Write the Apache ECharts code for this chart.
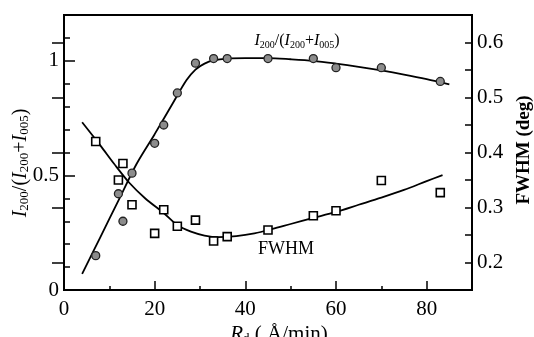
<!DOCTYPE html>
<html><head><meta charset="utf-8">
<script src="https://cdn.jsdelivr.net/npm/echarts@6/dist/echarts.min.js"></script>
<style>html,body{margin:0;padding:0;background:#fff}#c{width:534px;height:337px}</style>
</head><body><div id="c"></div>
<script>
// Measured data: I200/(I200+I005) ratio (left axis)
var ratioX = [7, 12, 13, 15, 20, 22, 25, 29, 33, 36, 45, 55, 60, 70, 83];
var ratioY = [0.15, 0.42, 0.30, 0.51, 0.64, 0.72, 0.86, 0.99, 1.01, 1.01, 1.01, 1.01, 0.97, 0.97, 0.91];
// Fit line for ratio
var ratioFitX = [4, 8, 12, 16, 20, 24, 27, 29, 31, 33, 36, 40, 45, 50, 55, 60, 65, 70, 75, 80, 85];
var ratioFitY = [0.07, 0.23, 0.39, 0.55, 0.68, 0.815, 0.915, 0.962, 0.988, 1.002, 1.01, 1.012, 1.012, 1.007, 1.0, 0.988, 0.974, 0.958, 0.94, 0.92, 0.897];
// Measured FWHM (deg) (right axis)
var fwhmX = [7, 12, 13, 15, 20, 22, 25, 29, 33, 36, 45, 55, 60, 70, 83];
var fwhmY = [0.42, 0.35, 0.38, 0.305, 0.253, 0.296, 0.266, 0.277, 0.239, 0.247, 0.259, 0.285, 0.294, 0.349, 0.327];
// Fit line for FWHM
var fwhmFitX = [4, 8, 11, 14.4, 18, 22, 25, 28, 31, 34, 38, 42, 46, 50, 55, 60, 65, 70, 75, 80, 83.5];
var fwhmFitY = [0.455, 0.413, 0.38, 0.345, 0.316, 0.29, 0.268, 0.256, 0.249, 0.246, 0.248, 0.253, 0.261, 0.27, 0.281, 0.292, 0.305, 0.318, 0.332, 0.348, 0.359];
// Tick values
var xMajor = [0, 20, 40, 60, 80];
var xMinor = [10, 30, 50, 70];
var yLeftMajor = [0, 0.5, 1];
var yRightMajor = [0.2, 0.3, 0.4, 0.5, 0.6];

function zip(a, b) { return a.map(function (v, i) { return [v, b[i]]; }); }

var FONT = '"Liberation Serif", "DejaVu Serif", serif';
var chart = echarts.init(document.getElementById('c'));
var rich = {
  i: { fontFamily: FONT, fontStyle: 'italic', fontSize: 20, color: '#000', lineHeight: 21 },
  n: { fontFamily: FONT, fontSize: 20, color: '#000', lineHeight: 21 },
  s: { fontFamily: FONT, fontSize: 13, color: '#000', lineHeight: 13, verticalAlign: 'bottom' }
};
var richX = {
  i: { fontFamily: FONT, fontStyle: 'italic', fontSize: 21, color: '#000', lineHeight: 22 },
  n: { fontFamily: FONT, fontSize: 21, color: '#000', lineHeight: 22 },
  s: { fontFamily: FONT, fontSize: 13, color: '#000', lineHeight: 13, verticalAlign: 'bottom' }
};
var richSmall = {
  i: { fontFamily: FONT, fontStyle: 'italic', fontSize: 16, color: '#000', lineHeight: 18 },
  n: { fontFamily: FONT, fontSize: 16, color: '#000', lineHeight: 18 },
  s: { fontFamily: FONT, fontSize: 10, color: '#000', lineHeight: 10, verticalAlign: 'bottom' }
};
var ratioText = '{i|I}{s|200}{n|/(}{i|I}{s|200}{n|+}{i|I}{s|005}{n|)}';

chart.setOption({
  animation: false,
  grid: { left: 64, right: 62, top: 15, bottom: 47, show: true, borderColor: '#000', borderWidth: 2, backgroundColor: 'transparent' },
  xAxis: [
    { type: 'value', min: 0, max: 90, interval: 20, position: 'bottom',
      axisLine: { show: true, lineStyle: { color: '#000', width: 2 } },
      axisTick: { show: true, inside: true, length: 9, customValues: xMajor, lineStyle: { color: '#000', width: 1.5 } },
      axisLabel: { customValues: xMajor, margin: 9, fontFamily: FONT, fontSize: 21, color: '#000' },
      splitLine: { show: false } },
    { type: 'value', min: 0, max: 90, interval: 10, position: 'bottom',
      axisLine: { show: false },
      axisTick: { show: true, inside: true, length: 4, customValues: xMinor, lineStyle: { color: '#000', width: 1.5 } },
      axisLabel: { show: false }, splitLine: { show: false } }
  ],
  yAxis: [
    { type: 'value', min: 0, max: 1.2, interval: 0.5, position: 'left',
      axisLine: { show: true, lineStyle: { color: '#000', width: 2 } },
      axisTick: { show: true, inside: true, length: 11, customValues: yLeftMajor, lineStyle: { color: '#000', width: 1.5 } },
      axisLabel: { customValues: yLeftMajor, margin: 5, fontFamily: FONT, fontSize: 21, color: '#000' },
      splitLine: { show: false } },
    { type: 'value', min: 0.15, max: 0.65, interval: 0.05, position: 'right',
      axisLine: { show: true, lineStyle: { color: '#000', width: 2 } },
      axisTick: { show: true, inside: true, length: 12, customValues: yRightMajor, lineStyle: { color: '#000', width: 1.5 } },
      axisLabel: { customValues: yRightMajor, margin: 5, fontFamily: FONT, fontSize: 21, color: '#000',
        formatter: function (v) { return v.toFixed(1); } },
      splitLine: { show: false } },
    { type: 'value', min: 0, max: 1.2, interval: 0.1, position: 'left',
      axisLine: { show: false },
      axisTick: { show: true, inside: true, length: 6, lineStyle: { color: '#000', width: 1.5 } },
      axisLabel: { show: false }, splitLine: { show: false } },
    { type: 'value', min: 0.15, max: 0.65, interval: 0.05, position: 'right',
      axisLine: { show: false },
      axisTick: { show: true, inside: true, length: 7, lineStyle: { color: '#000', width: 1.5 } },
      axisLabel: { show: false }, splitLine: { show: false } }
  ],
  series: [
    { type: 'line', xAxisIndex: 0, yAxisIndex: 0, data: zip(ratioFitX, ratioFitY), smooth: 0.3, showSymbol: false,
      lineStyle: { color: '#000', width: 1.8 }, z: 2 },
    { type: 'line', xAxisIndex: 0, yAxisIndex: 1, data: zip(fwhmFitX, fwhmFitY), smooth: 0.3, showSymbol: false,
      lineStyle: { color: '#000', width: 1.8 }, z: 2 },
    { type: 'scatter', xAxisIndex: 0, yAxisIndex: 0, data: zip(ratioX, ratioY), symbol: 'circle', symbolSize: 8,
      itemStyle: { color: '#8c8c8c', borderColor: '#222', borderWidth: 1.3, opacity: 1 }, z: 3 },
    { type: 'scatter', xAxisIndex: 0, yAxisIndex: 1, data: zip(fwhmX, fwhmY), symbol: 'rect', symbolSize: 8,
      itemStyle: { color: '#fff', borderColor: '#000', borderWidth: 1.6, opacity: 1 }, z: 3 }
  ],
  graphic: [
    { type: 'text', x: 21, y: 163, rotation: Math.PI / 2,
      style: { text: ratioText, rich: rich, align: 'center', verticalAlign: 'middle' } },
    { type: 'text', x: 297, y: 41,
      style: { text: ratioText, rich: richSmall, align: 'center', verticalAlign: 'middle' } },
    { type: 'text', x: 286, y: 249,
      style: { text: 'FWHM', fontFamily: FONT, fontSize: 18, fill: '#000', align: 'center', verticalAlign: 'middle' } },
    { type: 'text', x: 524, y: 150, rotation: Math.PI / 2,
      style: { text: 'FWHM (deg)', fontFamily: FONT, fontSize: 19, fontWeight: 'bold', fill: '#000', align: 'center', verticalAlign: 'middle' } },
    { type: 'text', x: 279, y: 334,
      style: { text: '{i|R}{s|d}{n| ( Å/min)}', rich: richX, align: 'center', verticalAlign: 'middle' } }
  ]
});
</script></body></html>
